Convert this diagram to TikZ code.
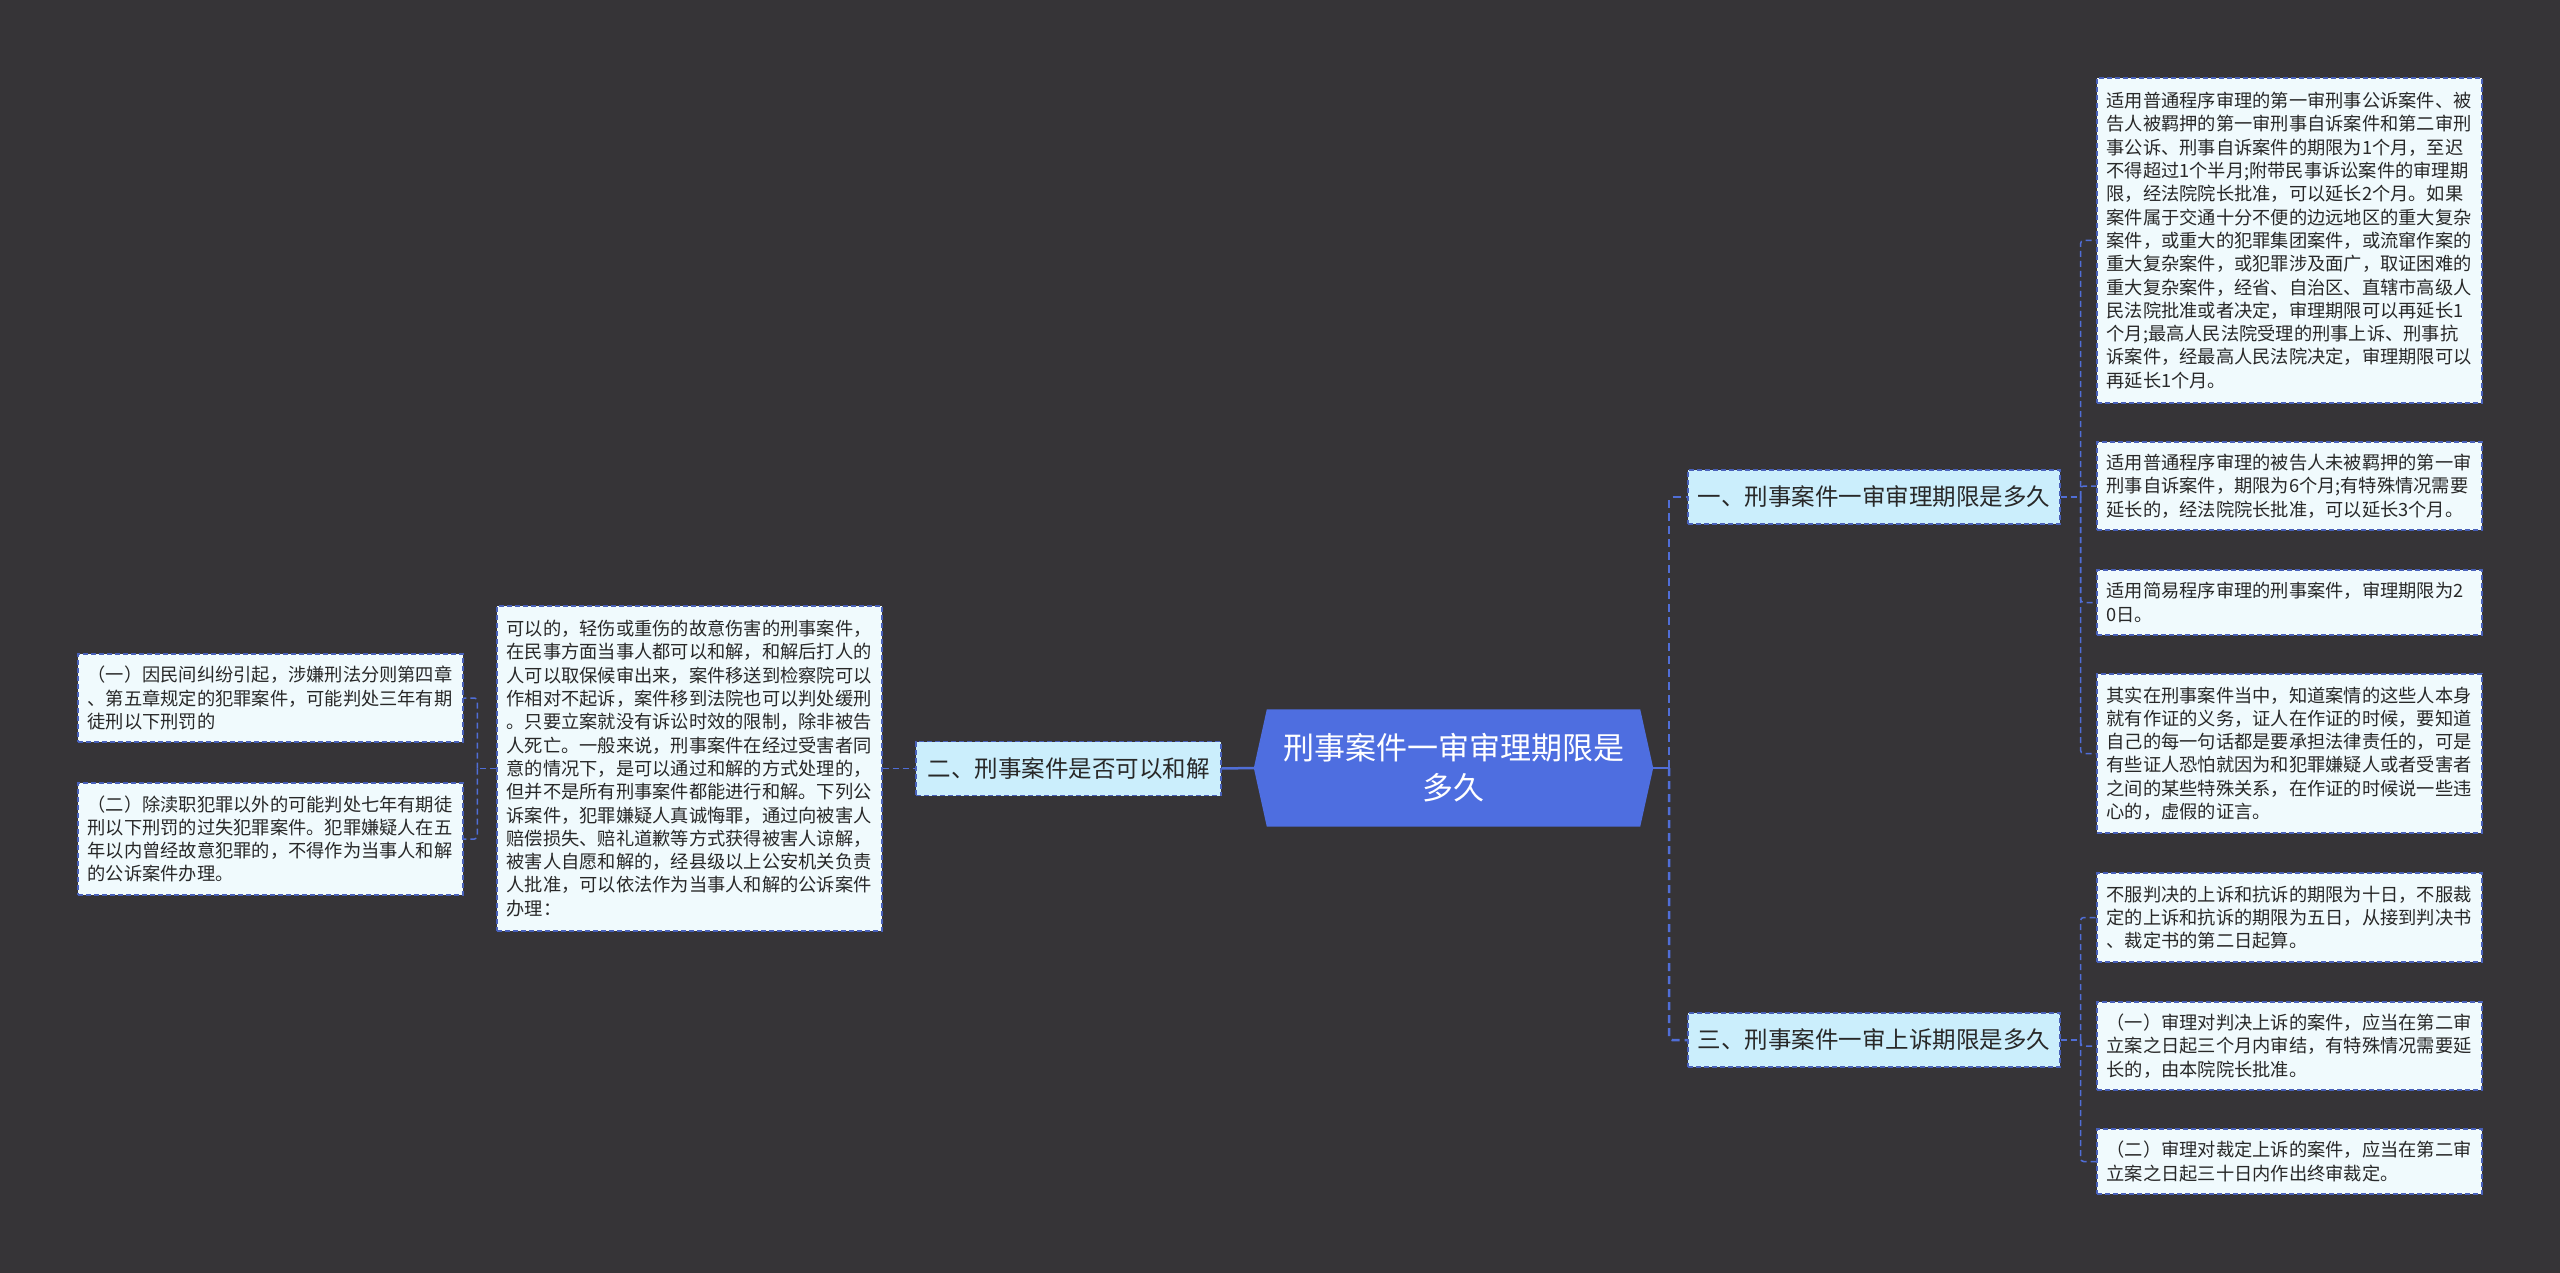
\documentclass[tikz,border=0pt]{standalone}
\usepackage{fontspec}
\setmainfont{Noto Sans CJK SC}
\usetikzlibrary{backgrounds}
\definecolor{bgc}{RGB}{54,52,55}
\definecolor{centerc}{RGB}{78,110,224}
\definecolor{connc}{RGB}{80,110,215}
\definecolor{borderc}{RGB}{72,96,185}
\definecolor{leaffill}{RGB}{240,250,253}
\definecolor{lonefill}{RGB}{203,238,252}
\definecolor{textc}{RGB}{40,40,40}
\tikzset{
  leaf/.style={draw=borderc, dash pattern=on 5pt off 3pt, line width=1.2pt, fill=leaffill,
    text=textc, text width=366pt, align=left, inner xsep=9.5pt, inner ysep=0pt,
    minimum height=#1, font=\fontsize{18.25}{23.3}\selectfont},
  lone/.style={draw=borderc, dash pattern=on 5pt off 3pt, line width=1.2pt, fill=lonefill,
    text=textc, inner sep=0pt, minimum height=54pt, minimum width=#1,
    font=\fontsize{23.5}{28}\selectfont},
  conn/.style={draw=connc, line width=1.5pt, dash pattern=on 6pt off 4pt, rounded corners=3pt},
  connthick/.style={draw=connc, line width=2.5pt, dash pattern=on 8pt off 5pt, rounded corners=3pt},
  solidconn/.style={draw=connc, line width=2.5pt},
}
\begin{document}
\begin{tikzpicture}[x=1pt,y=-1pt]
\useasboundingbox (0,0) rectangle (2560,1273);
\begin{pgfonlayer}{background}
\fill[bgc] (0,0) rectangle (2560,1273);
\end{pgfonlayer}

% center
\node[text=white, align=center, inner sep=0pt, minimum width=399pt, minimum height=117pt,
  font=\fontsize{31}{40}\selectfont] (c) at (1453.5,768) {刑事案件一审审理期限是\\多久};
\begin{pgfonlayer}{background}
\fill[centerc] (c.west) -- ([xshift=13pt]c.north west) -- ([xshift=-13pt]c.north east)
  -- (c.east) -- ([xshift=-13pt]c.south east) -- ([xshift=13pt]c.south west) -- cycle;
\end{pgfonlayer}

% level one
\node[lone=305pt] (n2) at (1068.5,768.5) {二、刑事案件是否可以和解};
\node[lone=372pt] (n1) at (1874,497) {一、刑事案件一审审理期限是多久};
\node[lone=372pt] (n3) at (1874,1040) {三、刑事案件一审上诉期限是多久};

% left side
\node[leaf=325pt] (big) at (689.5,768.5) {可以的，轻伤或重伤的故意伤害的刑事案件，\\在民事方面当事人都可以和解，和解后打人的\\人可以取保候审出来，案件移送到检察院可以\\作相对不起诉，案件移到法院也可以判处缓刑\\。只要立案就没有诉讼时效的限制，除非被告\\人死亡。一般来说，刑事案件在经过受害者同\\意的情况下，是可以通过和解的方式处理的，\\但并不是所有刑事案件都能进行和解。下列公\\诉案件，犯罪嫌疑人真诚悔罪，通过向被害人\\赔偿损失、赔礼道歉等方式获得被害人谅解，\\被害人自愿和解的，经县级以上公安机关负责\\人批准，可以依法作为当事人和解的公诉案件\\办理：};
\node[leaf=88pt] (L1) at (270.5,698) {（一）因民间纠纷引起，涉嫌刑法分则第四章\\、第五章规定的犯罪案件，可能判处三年有期\\徒刑以下刑罚的};
\node[leaf=112pt] (L2) at (270.5,839) {（二）除渎职犯罪以外的可能判处七年有期徒\\刑以下刑罚的过失犯罪案件。犯罪嫌疑人在五\\年以内曾经故意犯罪的，不得作为当事人和解\\的公诉案件办理。};

% right side, group one
\node[leaf=325pt] (r1) at (2289.5,240.5) {适用普通程序审理的第一审刑事公诉案件、被\\告人被羁押的第一审刑事自诉案件和第二审刑\\事公诉、刑事自诉案件的期限为1个月，至迟\\不得超过1个半月;附带民事诉讼案件的审理期\\限，经法院院长批准，可以延长2个月。如果\\案件属于交通十分不便的边远地区的重大复杂\\案件，或重大的犯罪集团案件，或流窜作案的\\重大复杂案件，或犯罪涉及面广，取证困难的\\重大复杂案件，经省、自治区、直辖市高级人\\民法院批准或者决定，审理期限可以再延长1\\个月;最高人民法院受理的刑事上诉、刑事抗\\诉案件，经最高人民法院决定，审理期限可以\\再延长1个月。};
\node[leaf=88pt] (r2) at (2289.5,486) {适用普通程序审理的被告人未被羁押的第一审\\刑事自诉案件，期限为6个月;有特殊情况需要\\延长的，经法院院长批准，可以延长3个月。};
\node[leaf=65pt] (r3) at (2289.5,602.5) {适用简易程序审理的刑事案件，审理期限为2\\0日。};
\node[leaf=159pt] (r4) at (2289.5,753.5) {其实在刑事案件当中，知道案情的这些人本身\\就有作证的义务，证人在作证的时候，要知道\\自己的每一句话都是要承担法律责任的，可是\\有些证人恐怕就因为和犯罪嫌疑人或者受害者\\之间的某些特殊关系，在作证的时候说一些违\\心的，虚假的证言。};

% right side, group three
\node[leaf=89pt] (r5) at (2289.5,917.5) {不服判决的上诉和抗诉的期限为十日，不服裁\\定的上诉和抗诉的期限为五日，从接到判决书\\、裁定书的第二日起算。};
\node[leaf=88pt] (r6) at (2289.5,1046) {（一）审理对判决上诉的案件，应当在第二审\\立案之日起三个月内审结，有特殊情况需要延\\长的，由本院院长批准。};
\node[leaf=65pt] (r7) at (2289.5,1161.5) {（二）审理对裁定上诉的案件，应当在第二审\\立案之日起三十日内作出终审裁定。};

% connectors
\draw[conn] (big.east) -- (n2.west);
\draw[solidconn] (n2.east) -- (c.west);

\coordinate (jc) at ([xshift=16pt]c.east);
\draw[solidconn] (c.east) -- (jc);
\draw[connthick] (jc) |- (n1.west);
\draw[connthick] (jc) |- (n3.west);

\coordinate (jl) at ([xshift=-19pt]big.west);
\draw[conn] (big.west) -- (jl);
\draw[conn] (jl) |- (L1.east);
\draw[conn] (jl) |- (L2.east);

\coordinate (j1) at ([xshift=20pt]n1.east);
\draw[conn] (n1.east) -- (j1);
\foreach \r in {r1,r2,r3,r4} \draw[conn] (j1) |- (\r.west);

\coordinate (j3) at ([xshift=20pt]n3.east);
\draw[conn] (n3.east) -- (j3);
\foreach \r in {r5,r6,r7} \draw[conn] (j3) |- (\r.west);
\end{tikzpicture}
\end{document}
